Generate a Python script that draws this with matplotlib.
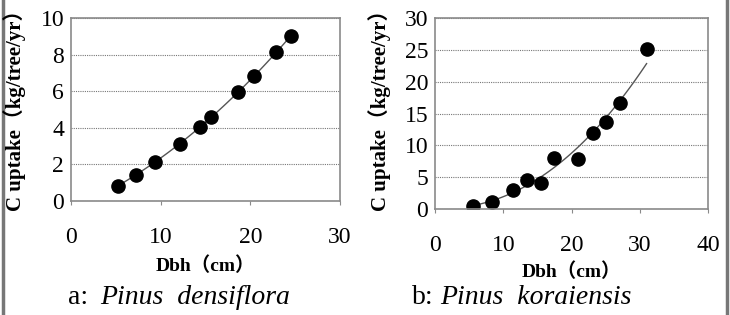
import numpy as np
import matplotlib.pyplot as plt

# Pinus densiflora
dbh_a = [5.2, 7.2, 9.4, 12.2, 14.4, 15.6, 18.6, 20.4, 22.9, 24.5]
cup_a = [0.84, 1.42, 2.12, 3.14, 4.03, 4.58, 5.95, 6.84, 8.12, 9.0]

# Pinus koraiensis
dbh_b = [5.5, 8.4, 11.4, 13.5, 15.6, 17.5, 20.9, 23.2, 25.0, 27.1, 31.0]
cup_b = [0.52, 1.15, 3.04, 4.6, 4.03, 8.0, 7.85, 11.9, 13.7, 16.6, 25.2]

xticks_a = [0, 10, 20, 30]
yticks_a = [0, 2, 4, 6, 8, 10]
xticks_b = [0, 10, 20, 30, 40]
yticks_b = [0, 5, 10, 15, 20, 25, 30]

serif = 'Liberation Serif'
lab_fam = ['Liberation Serif', 'Noto Sans CJK SC']
W, H = 730, 315

fig = plt.figure(figsize=(7.3, 3.15), dpi=100)
fig.patch.set_facecolor('white')


def px(x0, y0, x1, y1):
    return [x0 / W, 1 - y1 / H, (x1 - x0) / W, (y1 - y0) / H]


def style(ax, xt, yt, xpad):
    ax.set_xlim(xt[0], xt[-1])
    ax.set_ylim(yt[0], yt[-1])
    ax.set_xticks(xt)
    ax.set_yticks(yt)
    for s in ax.spines.values():
        s.set_color('#8a8a8a')
        s.set_linewidth(1.2)
    ax.yaxis.grid(True, color='#777777', linestyle=(0, (1, 1)), linewidth=0.8)
    ax.set_axisbelow(True)
    ax.tick_params(axis='y', length=0, pad=5, labelsize=17)
    ax.tick_params(axis='x', length=3, width=0.8, color='#8a8a8a',
                   pad=xpad, labelsize=17)
    for t in ax.get_xticklabels() + ax.get_yticklabels():
        t.set_family(serif)


# panel a
ax1 = fig.add_axes(px(71, 18, 340, 201))
style(ax1, xticks_a, yticks_a, 16)
c = np.polyfit(dbh_a, cup_a, 2)
xs = np.linspace(min(dbh_a), max(dbh_a), 100)
ax1.plot(xs, np.polyval(c, xs), color='#555555', lw=1)
ax1.plot(dbh_a, cup_a, 'o', color='black', ms=9.5)
ax1.set_xlabel('Dbh（cm）', family=lab_fam, fontsize=14, fontweight='bold', labelpad=6)

# panel b
ax2 = fig.add_axes(px(435, 18, 708, 209))
style(ax2, xticks_b, yticks_b, 16)
b, la = np.polyfit(np.log(dbh_b), np.log(cup_b), 1)
xs = np.linspace(6, max(dbh_b), 100)
ax2.plot(xs, np.exp(la) * xs ** b, color='#555555', lw=1)
ax2.plot(dbh_b, cup_b, 'o', color='black', ms=9.5)
ax2.set_xlabel('Dbh（cm）', family=lab_fam, fontsize=14, fontweight='bold', labelpad=4)

# y labels
for xpos in (15, 380):
    fig.text(xpos / W, 1 - 105 / H, 'C uptake（kg/tree/yr）', rotation=90,
             ha='center', va='center', family=lab_fam, fontsize=15,
             fontweight='bold')

# captions
fig.text(68 / W, 1 - 297 / H, 'a:', family=serif, fontsize=20, va='center')
fig.text(100 / W, 1 - 297 / H, 'Pinus  densiflora', family=serif, style='italic',
         fontsize=20, va='center')
fig.text(412 / W, 1 - 297 / H, 'b:', family=serif, fontsize=20, va='center')
fig.text(440 / W, 1 - 297 / H, 'Pinus  koraiensis', family=serif, style='italic',
         fontsize=20, va='center')

# side frame lines
for xpos in (3, 727):
    fig.add_artist(plt.Line2D([xpos / W, xpos / W], [0, 1], color='#777777', lw=2.5))

fig.savefig('out.png', dpi=100)
